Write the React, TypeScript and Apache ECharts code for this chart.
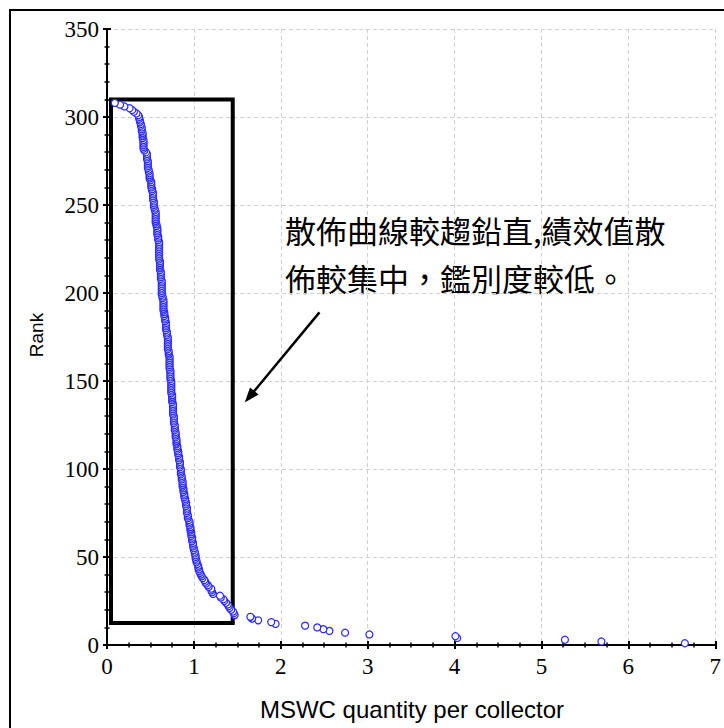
import React, { useEffect, useRef } from "react";
import * as echarts from "echarts";

// MSWC quantity per collector, listed by rank (rank 1 = largest quantity)
const quantityByRank: number[] = [
  6.65, 5.69, 5.27, 4.03, 4.01, 3.02, 2.74, 2.56, 2.49, 2.42,
  2.28, 1.94, 1.89, 1.74, 1.67, 1.65, 1.47, 1.46, 1.45, 1.43,
  1.41, 1.40, 1.39, 1.37, 1.35, 1.34, 1.31, 1.30, 1.22, 1.21,
  1.20, 1.20, 1.17, 1.16, 1.14, 1.13, 1.12, 1.10, 1.09, 1.08,
  1.07, 1.06, 1.06, 1.05, 1.05, 1.04, 1.03, 1.03, 1.02, 1.02,
  1.02, 1.01, 1.01, 1.00, 1.00, 0.99, 0.99, 0.99, 0.98, 0.98,
  0.98, 0.97, 0.97, 0.97, 0.96, 0.96, 0.96, 0.95, 0.95, 0.95,
  0.94, 0.93, 0.93, 0.93, 0.92, 0.92, 0.92, 0.92, 0.91, 0.91,
  0.91, 0.90, 0.90, 0.89, 0.89, 0.89, 0.88, 0.88, 0.88, 0.87,
  0.87, 0.87, 0.87, 0.86, 0.86, 0.86, 0.85, 0.85, 0.85, 0.85,
  0.84, 0.84, 0.84, 0.84, 0.83, 0.83, 0.83, 0.82, 0.82, 0.82,
  0.81, 0.81, 0.81, 0.80, 0.80, 0.80, 0.80, 0.79, 0.79, 0.79,
  0.79, 0.78, 0.78, 0.78, 0.78, 0.77, 0.77, 0.77, 0.77, 0.77,
  0.76, 0.76, 0.76, 0.76, 0.76, 0.76, 0.76, 0.75, 0.75, 0.75,
  0.75, 0.75, 0.74, 0.74, 0.74, 0.74, 0.74, 0.74, 0.74, 0.74,
  0.73, 0.73, 0.73, 0.73, 0.73, 0.73, 0.72, 0.72, 0.72, 0.72,
  0.72, 0.72, 0.72, 0.72, 0.71, 0.71, 0.71, 0.70, 0.70, 0.70,
  0.70, 0.70, 0.70, 0.70, 0.70, 0.69, 0.69, 0.69, 0.68, 0.68,
  0.68, 0.68, 0.68, 0.67, 0.67, 0.67, 0.66, 0.66, 0.66, 0.65,
  0.65, 0.65, 0.65, 0.65, 0.65, 0.65, 0.64, 0.64, 0.63, 0.63,
  0.63, 0.63, 0.63, 0.63, 0.63, 0.63, 0.63, 0.62, 0.62, 0.62,
  0.62, 0.62, 0.61, 0.61, 0.61, 0.61, 0.61, 0.61, 0.60, 0.60,
  0.60, 0.60, 0.60, 0.60, 0.60, 0.60, 0.60, 0.60, 0.60, 0.59,
  0.59, 0.59, 0.58, 0.58, 0.58, 0.58, 0.58, 0.57, 0.57, 0.56,
  0.56, 0.56, 0.56, 0.56, 0.56, 0.56, 0.55, 0.55, 0.54, 0.54,
  0.54, 0.54, 0.53, 0.53, 0.53, 0.53, 0.53, 0.52, 0.52, 0.51,
  0.51, 0.51, 0.51, 0.50, 0.49, 0.49, 0.49, 0.49, 0.48, 0.48,
  0.47, 0.47, 0.47, 0.47, 0.47, 0.46, 0.46, 0.46, 0.46, 0.45,
  0.43, 0.42, 0.42, 0.42, 0.42, 0.42, 0.42, 0.41, 0.41, 0.41,
  0.41, 0.40, 0.40, 0.40, 0.39, 0.39, 0.38, 0.38, 0.37, 0.37,
  0.36, 0.34, 0.31, 0.29, 0.26, 0.20, 0.15, 0.09,
];

// Highlighted region (quantity from/to, rank from/to)
const boxX: [number, number] = [0.046, 1.447];
const boxRank: [number, number] = [12.5, 310];

// Arrow pointing at the highlighted region: [quantity, rank] start and tip
const arrowFrom: [number, number] = [2.445, 189];
const arrowTo: [number, number] = [1.64, 141];

const noteLines = ["散佈曲線較趨鉛直,績效值散", "佈較集中，鑑別度較低。"];

const xTitle = "MSWC quantity per collector";
const yTitle = "Rank";

const serif = "Times New Roman";
const sans = "Liberation Sans";
const cjk = "Noto Sans CJK TC";

export default function App() {
  const ref = useRef<HTMLDivElement>(null);

  useEffect(() => {
    if (!ref.current) return;
    const chart = echarts.init(ref.current, undefined, { renderer: "svg" });

    const points = quantityByRank.map((q, i) => [q, i + 1]);

    const axisLine = { show: true, lineStyle: { color: "#000", width: 2 } };
    const axisTick = { show: true, inside: true, length: 4, lineStyle: { color: "#000", width: 2 } };
    const minorLine = { color: "#000", width: 1.5 };
    const gridLine = { show: true, lineStyle: { color: "#cfcfcf", type: [4, 3], width: 1 } };
    const tickText = { color: "#000", fontFamily: serif, fontSize: 23, fontWeight: "normal" };

    chart.setOption({
      animation: false,
      backgroundColor: "#fff",
      textStyle: { fontFamily: serif },
      grid: { left: 107, right: 7, top: 29, bottom: 83, containLabel: false },
      xAxis: [
        {
          type: "value", min: 0, max: 7, interval: 1, position: "bottom",
          axisLine, axisTick,
          minorTick: { show: true, splitNumber: 4, length: 2.5, lineStyle: minorLine },
          axisLabel: { ...tickText, margin: 10 },
          splitLine: gridLine,
        },
        {
          type: "value", min: 0, max: 7, interval: 1, position: "top",
          axisLine, axisTick,
          minorTick: { show: true, splitNumber: 4, length: 2.5, lineStyle: minorLine },
          axisLabel: { show: false },
          splitLine: { show: false },
        },
      ],
      yAxis: [
        {
          type: "value", min: 0, max: 350, interval: 50, position: "left",
          axisLine, axisTick,
          minorTick: { show: true, splitNumber: 5, length: 2.5, lineStyle: minorLine },
          axisLabel: { ...tickText, margin: 8 },
          splitLine: gridLine,
        },
        {
          type: "value", min: 0, max: 350, interval: 50, position: "right",
          axisLine, axisTick,
          minorTick: { show: true, splitNumber: 5, length: 2.5, lineStyle: minorLine },
          axisLabel: { show: false },
          splitLine: { show: false },
        },
      ],
      series: [
        {
          type: "scatter",
          xAxisIndex: 0,
          yAxisIndex: 0,
          data: points,
          symbol: "circle",
          symbolSize: 7,
          itemStyle: { color: "#fff", borderColor: "#2a2aff", borderWidth: 1.2, opacity: 1 },
          z: 5,
          markArea: {
            silent: true,
            itemStyle: { color: "rgba(0,0,0,0)", borderColor: "#000", borderWidth: 4 },
            data: [[{ coord: [boxX[0], boxRank[0]] }, { coord: [boxX[1], boxRank[1]] }]],
          },
          markLine: {
            silent: true,
            symbol: ["none", "triangle"],
            symbolSize: [11, 15],
            label: { show: false },
            lineStyle: { color: "#000", width: 2.5, type: "solid" },
            data: [[{ coord: arrowFrom }, { coord: arrowTo }]],
          },
        },
      ],
      graphic: [
        {
          type: "rect",
          shape: { x: 10, y: 10, width: 730, height: 740 },
          style: { fill: "none", stroke: "#000", lineWidth: 2 },
          silent: true,
          z: 100,
        },
        {
          type: "text",
          x: 36,
          y: 335,
          rotation: Math.PI / 2,
          style: {
            text: yTitle, fill: "#000", fontFamily: sans, fontSize: 19,
            align: "center", verticalAlign: "middle",
          },
        },
        {
          type: "text",
          x: 412,
          y: 709,
          style: {
            text: xTitle, fill: "#000", fontFamily: sans, fontSize: 24,
            align: "center", verticalAlign: "middle",
          },
        },
        {
          type: "text",
          x: 285,
          y: 229,
          style: {
            text: noteLines[0], fill: "#000", fontFamily: cjk, fontSize: 31,
            align: "left", verticalAlign: "middle",
          },
        },
        {
          type: "text",
          x: 285,
          y: 277,
          style: {
            text: noteLines[1], fill: "#000", fontFamily: cjk, fontSize: 31,
            align: "left", verticalAlign: "middle",
          },
        },
      ],
    });

    return () => chart.dispose();
  }, []);

  return (
    <div
      ref={ref}
      style={{ position: "absolute", left: 0, top: 0, width: 724, height: 728 }}
    />
  );
}
